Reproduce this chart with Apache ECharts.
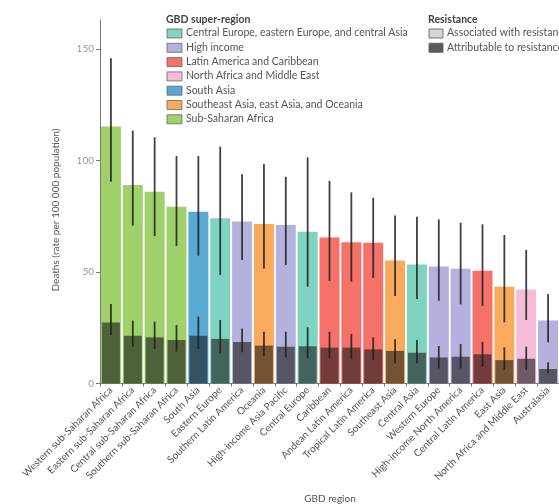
<!DOCTYPE html>
<html>
<head>
<meta charset="utf-8">
<script src="https://cdn.jsdelivr.net/npm/echarts@6/dist/echarts.min.js"></script>
<style>
    html, body { margin: 0; padding: 0; background: #fff; }
    #chart1 { width: 559px; height: 504px; }
</style>
</head>
<body>
<div id="chart1"></div>
<script>
    // GBD regions, sorted by associated deaths
    var categories = ['Western sub-Saharan Africa', 'Eastern sub-Saharan Africa', 'Central sub-Saharan Africa',
        'Southern sub-Saharan Africa', 'South Asia', 'Eastern Europe', 'Southern Latin America', 'Oceania',
        'High-income Asia Pacific', 'Central Europe', 'Caribbean', 'Andean Latin America', 'Tropical Latin America',
        'Southeast Asia', 'Central Asia', 'Western Europe', 'High-income North America', 'Central Latin America',
        'East Asia', 'North Africa and Middle East', 'Australasia'];

    var superRegions = ['Central Europe, eastern Europe, and central Asia', 'High income', 'Latin America and Caribbean',
        'North Africa and Middle East', 'South Asia', 'Southeast Asia, east Asia, and Oceania', 'Sub-Saharan Africa'];
    var superColors = ['#7fd4c1', '#b4b2dd', '#f4726a', '#f5bcd8', '#5aa8d4', '#f9aa5c', '#9fd06a'];
    // super-region index of each region
    var regionGroup = [6, 6, 6, 6, 4, 0, 1, 5, 1, 0, 2, 2, 2, 5, 0, 1, 1, 2, 5, 3, 1];

    // associated with resistance
    var assocVal = [115.2, 89.0, 86.0, 79.3, 77.0, 74.1, 72.6, 71.5, 71.1, 68.1, 65.5, 63.3, 63.1, 55.1, 53.4, 52.5, 51.5, 50.6, 43.4, 42.2, 28.2];
    var assocLow = [90.5, 70.8, 66.1, 61.7, 57.3, 48.7, 55.4, 51.6, 53.1, 43.4, 46.0, 45.7, 47.4, 39.2, 37.9, 37.1, 35.5, 34.8, 27.4, 28.5, 18.5];
    var assocHigh = [145.8, 113.4, 110.4, 102.0, 102.0, 106.2, 93.8, 98.4, 92.7, 101.4, 90.9, 85.7, 83.3, 75.3, 74.8, 73.6, 72.1, 71.4, 66.6, 59.9, 40.1];

    // attributable to resistance
    var attrVal = [27.4, 21.4, 20.7, 19.5, 21.4, 20.0, 18.6, 17.0, 16.5, 16.7, 16.1, 16.1, 15.3, 14.6, 13.8, 11.7, 12.0, 13.1, 10.5, 11.1, 6.5];
    var attrLow = [21.7, 16.5, 15.5, 14.3, 15.5, 13.5, 14.0, 12.3, 11.7, 11.3, 11.3, 10.8, 10.5, 9.0, 9.0, 6.8, 6.8, 7.5, 6.1, 6.1, 4.6];
    var attrHigh = [35.7, 28.2, 27.7, 26.2, 30.0, 28.5, 24.7, 23.2, 23.2, 25.2, 23.2, 22.2, 20.7, 19.8, 19.5, 16.8, 17.7, 18.7, 16.2, 16.5, 9.5];

    var yTicks = [0, 50, 100, 150];
    var resistNames = ['Associated with resistance', 'Attributable to resistance'];

    var chart1 = echarts.init(document.getElementById('chart1'));
    var font = 'Lato, "Open Sans", sans-serif';

    var assocData = assocVal.map(function (v, i) {
        return {value: v, itemStyle: {color: superColors[regionGroup[i]]}};
    });
    var errData = [];
    categories.forEach(function (c, i) {
        errData.push([i, assocLow[i], assocHigh[i]]);
        errData.push([i, attrLow[i], attrHigh[i]]);
    });

    // legends drawn as graphic elements
    var graphics = [{
        type: 'text', x: 166, y: 14,
        style: {text: 'GBD super-region', font: 'bold 10.5px ' + font, fill: '#444'}
    }];
    superRegions.forEach(function (name, i) {
        var y = 29 + i * 14.3;
        graphics.push({
            type: 'rect', shape: {x: 167, y: y, width: 15, height: 9},
            style: {fill: superColors[i], stroke: '#666', lineWidth: 0.8}
        });
        graphics.push({
            type: 'text', x: 186, y: y - 1.5,
            style: {text: name, font: '10.5px ' + font, fill: '#555'}
        });
    });
    graphics.push({
        type: 'text', x: 428, y: 14,
        style: {text: 'Resistance', font: 'bold 10.5px ' + font, fill: '#444'}
    });
    ['#d6d6d6', '#5a5a5a'].forEach(function (col, i) {
        var y = 29 + i * 14.3;
        graphics.push({
            type: 'rect', shape: {x: 429, y: y, width: 14, height: 9},
            style: {fill: col, stroke: '#555', lineWidth: 0.8}
        });
        graphics.push({
            type: 'text', x: 447, y: y - 1.5,
            style: {text: resistNames[i], font: '10.5px ' + font, fill: '#555'}
        });
    });
    // axis titles
    graphics.push({
        type: 'text', x: 330, y: 494,
        style: {text: 'GBD region', font: '10px ' + font, fill: '#555', textAlign: 'center'}
    });
    graphics.push({
        type: 'text', x: 56, y: 210, rotation: Math.PI / 2,
        style: {text: 'Deaths (rate per 100 000 population)', font: '10px ' + font, fill: '#555',
            textAlign: 'center', textVerticalAlign: 'middle'}
    });

    var option = {
        animation: false,
        textStyle: {fontFamily: font},
        grid: {left: 100, right: 0, top: 20, bottom: 120.5, outerBoundsMode: 'none'},
        graphic: graphics,
        xAxis: [
            {
                type: 'category',
                data: categories,
                axisLine: {lineStyle: {color: '#777'}},
                axisTick: {show: true, length: 3, lineStyle: {color: '#777'}},
                axisLabel: {rotate: 45, interval: 0, fontSize: 10, color: '#555', margin: 5}
            },
            {
                type: 'category',
                data: categories,
                show: false
            }
        ],
        yAxis: {
            type: 'value',
            min: 0,
            max: 163,
            axisLine: {show: true, lineStyle: {color: '#777'}},
            axisTick: {show: true, length: 4, customValues: yTicks, lineStyle: {color: '#777'}},
            axisLabel: {customValues: yTicks, fontSize: 10, color: '#999', margin: 6},
            splitLine: {show: false}
        },
        series: [
            {
                name: resistNames[0],
                type: 'bar',
                xAxisIndex: 0,
                barWidth: 20,
                data: assocData,
                z: 2
            },
            {
                name: resistNames[1],
                type: 'bar',
                xAxisIndex: 1,
                barWidth: 18,
                itemStyle: {color: 'rgba(25,25,25,0.6)'},
                data: attrVal,
                z: 3
            },
            {
                name: 'uncertainty',
                type: 'custom',
                xAxisIndex: 0,
                data: errData,
                encode: {x: 0, y: [1, 2]},
                z: 5,
                renderItem: function (params, api) {
                    var x = api.value(0);
                    var p1 = api.coord([x, api.value(1)]);
                    var p2 = api.coord([x, api.value(2)]);
                    return {
                        type: 'line',
                        shape: {x1: p1[0], y1: p1[1], x2: p2[0], y2: p2[1]},
                        style: {stroke: 'rgba(30,30,30,0.85)', lineWidth: 1.8}
                    };
                }
            }
        ]
    };

    chart1.setOption(option);
</script>
</body>
</html>
